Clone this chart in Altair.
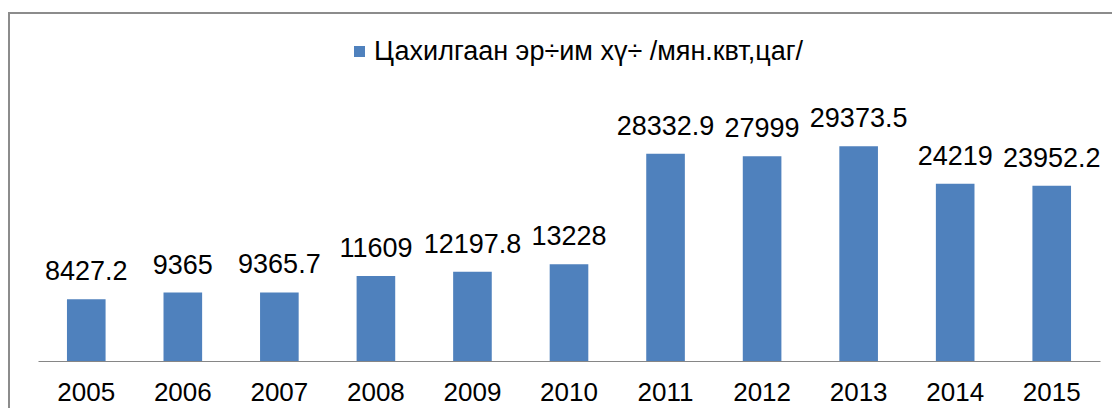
import altair as alt
import pandas as pd

years = ["2005", "2006", "2007", "2008", "2009", "2010", "2011", "2012", "2013", "2014", "2015"]
values = [8427.2, 9365, 9365.7, 11609, 12197.8, 13228, 28332.9, 27999, 29373.5, 24219, 23952.2]
series_name = "Цахилгаан эр÷им хү÷ /мян.квт,цаг/"

df = pd.DataFrame({"year": years, "value": values, "series": [series_name] * len(years)})

FONT = "Liberation Sans"

x_enc = alt.X(
    "year:N",
    sort=years,
    title=None,
    scale=alt.Scale(paddingInner=0.6, paddingOuter=0.3),
    axis=alt.Axis(
        labelAngle=0,
        ticks=False,
        labelPadding=18,
        labelFontSize=26,
        labelFont=FONT,
        labelColor="#000000",
        domainColor="#868686",
        domainWidth=1,
        grid=False,
    ),
)
y_enc = alt.Y("value:Q", scale=alt.Scale(domain=[0, 35000]), axis=None)

bars = alt.Chart(df).mark_bar().encode(
    x=x_enc,
    y=y_enc,
    color=alt.Color(
        "series:N",
        scale=alt.Scale(domain=[series_name], range=["#4F81BD"]),
        legend=alt.Legend(
            title=None,
            orient="none",
            legendX=308,
            legendY=-67,
            symbolType="square",
            symbolSize=121,
            symbolStrokeWidth=0,
            labelFontSize=27,
            labelFont=FONT,
            labelColor="#000000",
            labelOffset=1,
            padding=0,
            labelLimit=0,
        ),
    ),
)

labels = alt.Chart(df).mark_text(
    baseline="alphabetic", dy=-19, fontSize=27, font=FONT, color="#000000"
).encode(x=alt.X("year:N", sort=years), y=y_enc, text=alt.Text("value:Q", format="~r"))

border = alt.Chart(alt.Data(values=[{"a": 1}])).mark_rect(
    fill=None, stroke="#8c8c8c", strokeWidth=2
).encode(
    x=alt.value(-29), x2=alt.value(1100), y=alt.value(-92), y2=alt.value(330)
)

chart = alt.layer(border, bars, labels).properties(
    width=1062,
    height=256,
    padding={"left": 30, "top": 97, "right": 12, "bottom": 47},
    autosize=alt.AutoSizeParams(type="none"),
).configure_view(stroke=None)

chart.save("out.html", embed_options={"renderer": "svg", "actions": False})
